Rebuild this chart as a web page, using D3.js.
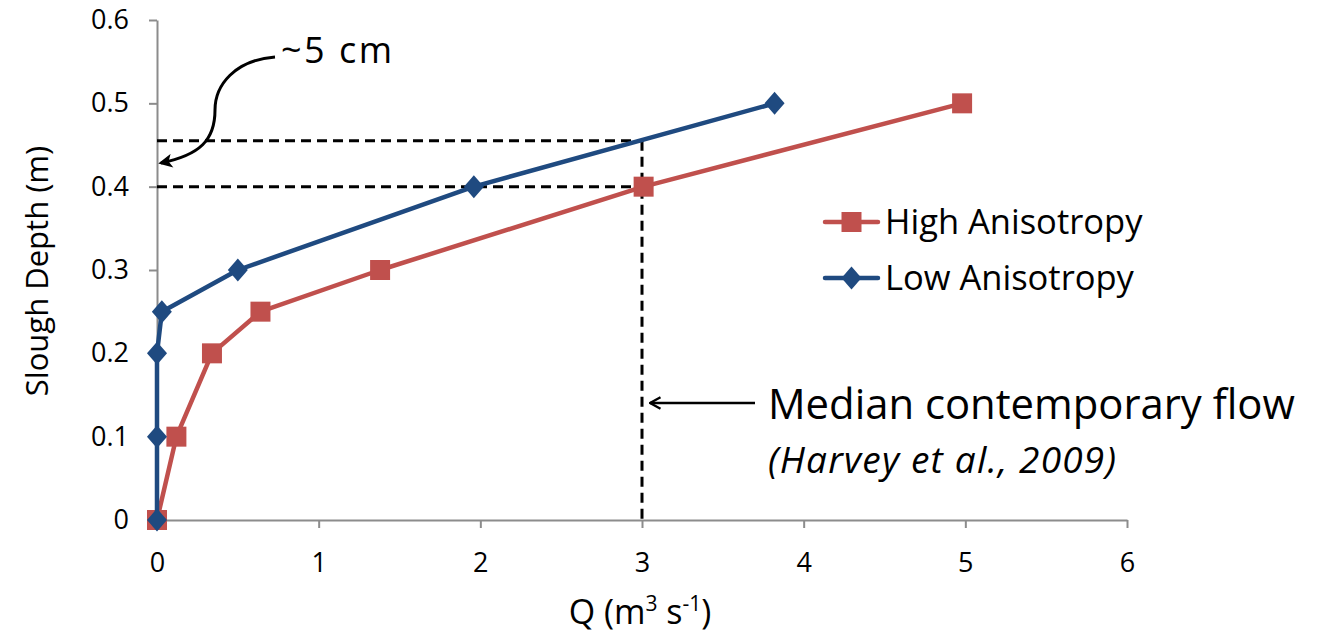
<!DOCTYPE html>
<html>
<head>
<meta charset="utf-8">
<script src="https://cdn.jsdelivr.net/npm/d3@7"></script>
<style>
  body { margin: 0; background: #fff; }
  svg { font-family: "Open Sans", sans-serif; }
</style>
</head>
<body>
<svg class="js-render-chart" width="1319" height="637"></svg>
<script>
"use strict";

//data

const seriesNames = ["High Anisotropy", "Low Anisotropy"];
const highQ = [0, 0.12, 0.34, 0.64, 1.38, 3.01, 4.98];
const highDepth = [0, 0.1, 0.2, 0.25, 0.3, 0.4, 0.5];
const lowQ = [0, 0, 0, 0.03, 0.5, 1.96, 3.82];
const lowDepth = [0, 0.1, 0.2, 0.25, 0.3, 0.4, 0.5];
const xTicks = [0, 1, 2, 3, 4, 5, 6];
const yTicks = [0, 0.1, 0.2, 0.3, 0.4, 0.5, 0.6];
const medianFlow = 3;
const depthAtMedianLow = 0.455;
const depthAtMedianHigh = 0.4;

//params

const m = { l: 157, t: 20 };
const w = 970;
const h = 500;

const x = d3.scaleLinear().domain([0, 6]).range([0, w]);
const y = d3.scaleLinear().domain([0, 0.6]).range([h, 0]);

const svg = d3.select(".js-render-chart");
const defs = svg.append("defs");

//filled head for the curved arrow
defs.append("marker")
  .attr("id", "head")
  .attr("viewBox", "0 0 10 10")
  .attr("refX", 8)
  .attr("refY", 5)
  .attr("markerWidth", 16)
  .attr("markerHeight", 14)
  .attr("markerUnits", "userSpaceOnUse")
  .attr("orient", "auto")
  .append("path")
  .attr("d", "M0,0 L10,5 L0,10 L2.5,5 z");

//open chevron head for the median arrow
defs.append("marker")
  .attr("id", "chev")
  .attr("viewBox", "0 0 12 12")
  .attr("refX", 11)
  .attr("refY", 6)
  .attr("markerWidth", 14)
  .attr("markerHeight", 14)
  .attr("markerUnits", "userSpaceOnUse")
  .attr("orient", "auto")
  .append("path")
  .attr("d", "M2,1 L11,6 L2,11")
  .attr("fill", "none")
  .attr("stroke", "#000")
  .attr("stroke-width", 2);

const chart = svg.append("g")
  .attr("transform", `translate(${m.l}, ${m.t})`);

//axes

const xa = d3.axisBottom(x).tickValues(xTicks).tickFormat(d3.format("d")).tickSize(8).tickSizeOuter(0);
const ya = d3.axisLeft(y).tickValues(yTicks).tickFormat(d => d === 0 ? "0" : d3.format(".1f")(d)).tickSize(8).tickSizeOuter(0);

const gx = chart.append("g")
  .attr("transform", `translate(0, ${h})`)
  .call(xa);
gx.selectAll("text").attr("y", 33).attr("dy", "0.71em");

const gy = chart.append("g").call(ya);
gy.selectAll("text").attr("x", -28);

chart.selectAll(".tick text")
  .attr("font-family", "'Open Sans', sans-serif")
  .attr("font-size", 27)
  .attr("fill", "#000");

chart.selectAll(".domain, .tick line").attr("stroke", "#8c8c8c").attr("stroke-width", 2);

//dashed guides

const dash = chart.append("g")
  .attr("fill", "none")
  .attr("stroke", "#000")
  .attr("stroke-width", 3)
  .attr("stroke-dasharray", "10,6");

dash.append("line")
  .attr("x1", x(0)).attr("x2", x(medianFlow))
  .attr("y1", y(depthAtMedianLow)).attr("y2", y(depthAtMedianLow));

dash.append("line")
  .attr("x1", x(0)).attr("x2", x(medianFlow))
  .attr("y1", y(depthAtMedianHigh)).attr("y2", y(depthAtMedianHigh));

dash.append("line")
  .attr("x1", x(medianFlow)).attr("x2", x(medianFlow))
  .attr("y1", y(depthAtMedianLow)).attr("y2", y(0));

//series

const diamond = {
  draw(ctx, size) {
    const r = Math.sqrt(size) / 2;
    ctx.moveTo(0, -r * 1.15);
    ctx.lineTo(r, 0);
    ctx.lineTo(0, r * 1.15);
    ctx.lineTo(-r, 0);
    ctx.closePath();
  }
};

const series = [
  { name: seriesNames[0], q: highQ, d: highDepth, color: "#c0504d", sym: d3.symbolSquare, size: 400 },
  { name: seriesNames[1], q: lowQ, d: lowDepth, color: "#1f4a80", sym: diamond, size: 400 }
];

const line = d3.line().x(p => x(p[0])).y(p => y(p[1]));

series.forEach(s => {
  const pts = s.q.map((q, i) => [q, s.d[i]]);
  chart.append("path")
    .attr("d", line(pts))
    .attr("fill", "none")
    .attr("stroke", s.color)
    .attr("stroke-width", 4.5)
    .attr("stroke-linejoin", "round");
  chart.selectAll(null)
    .data(pts)
    .enter()
    .append("path")
    .attr("transform", p => `translate(${x(p[0])}, ${y(p[1])})`)
    .attr("d", d3.symbol().type(s.sym).size(s.size))
    .attr("fill", s.color);
});

//legend

const legend = svg.append("g").attr("transform", "translate(825, 222)");

series.forEach((s, i) => {
  const g = legend.append("g").attr("transform", `translate(0, ${i * 56})`);
  g.append("line")
    .attr("x1", 0).attr("x2", 53)
    .attr("stroke", s.color)
    .attr("stroke-width", 4.5)
    .attr("stroke-linecap", "round");
  g.append("path")
    .attr("transform", "translate(26.5, 0)")
    .attr("d", d3.symbol().type(s.sym).size(s.size))
    .attr("fill", s.color);
  g.append("text")
    .attr("x", 60)
    .attr("dy", "0.36em")
    .attr("font-size", 34.5)
    .text(s.name);
});

//annotations

svg.append("path")
  .attr("d", "M275,57 C235,60 215,85 215,110 C215,140 200,155 161,163")
  .attr("fill", "none")
  .attr("stroke", "#000")
  .attr("stroke-width", 3)
  .attr("marker-end", "url(#head)");

svg.append("text")
  .attr("x", 281)
  .attr("y", 63)
  .attr("font-size", 36)
  .attr("letter-spacing", 2.5)
  .text("~5 cm");

svg.append("line")
  .attr("x1", 755).attr("x2", 650)
  .attr("y1", 403).attr("y2", 403)
  .attr("stroke", "#000")
  .attr("stroke-width", 2.5)
  .attr("marker-end", "url(#chev)");

svg.append("text")
  .attr("x", 768)
  .attr("y", 419)
  .attr("font-size", 41.8)
  .text("Median contemporary flow");

svg.append("text")
  .attr("x", 768)
  .attr("y", 473)
  .attr("font-size", 37)
  .attr("letter-spacing", 1.2)
  .attr("font-style", "italic")
  .text("(Harvey et al., 2009)");

//axis titles

svg.append("text")
  .attr("transform", "translate(48, 271) rotate(-90)")
  .attr("text-anchor", "middle")
  .attr("font-size", 31)
  .text("Slough Depth (m)");

const xt = svg.append("text")
  .attr("x", 640)
  .attr("y", 624)
  .attr("text-anchor", "middle")
  .attr("font-size", 34);
xt.append("tspan").text("Q (m");
xt.append("tspan").attr("font-size", 21).attr("dy", -13).text("3");
xt.append("tspan").attr("dy", 13).text(" s");
xt.append("tspan").attr("font-size", 21).attr("dy", -13).text("-1");
xt.append("tspan").attr("dy", 13).text(")");
</script>
</body>
</html>
